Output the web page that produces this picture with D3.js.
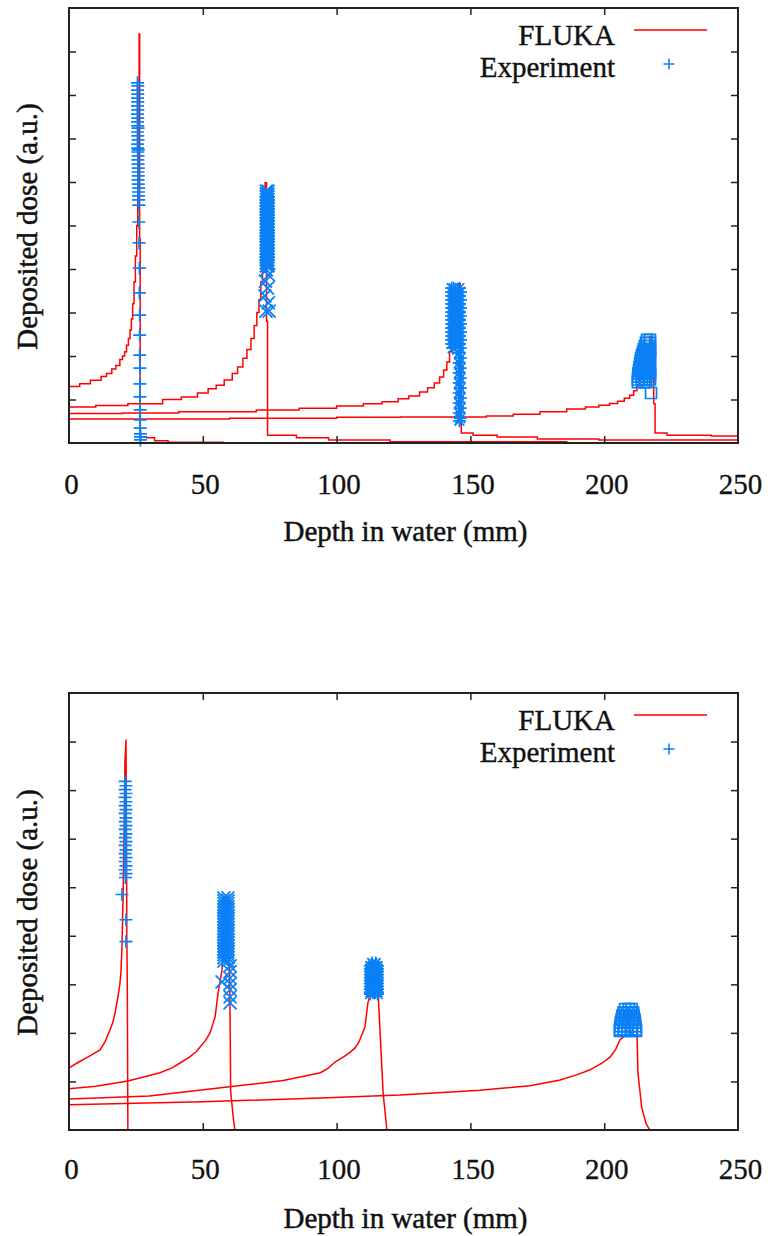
<!DOCTYPE html>
<html>
<head>
<meta charset="utf-8">
<script src="https://cdn.jsdelivr.net/npm/d3@7"></script>
<style>
  body { margin: 0; background: #fff; }
  text { font-family: "Liberation Serif", "Times New Roman", serif; fill: #111; }
</style>
</head>
<body>
<div id="chart"></div>
<script>
// ---- FLUKA curves, top panel: [depth mm, dose a.u.]
const flukaTop1 = [[0,1.30],[4,1.36],[8,1.44],[12,1.53],[14,1.6],[16,1.7],[17.5,1.78],[19,1.92],[20,2.0],[20.8,2.1],[21.5,2.25],[22.2,2.4],[22.8,2.6],[23.3,2.85],[23.8,3.2],[24.3,3.7],[24.8,4.3],[25.3,5.0],[25.7,6.0],[26.0,7.5],[26.2,9.4],[26.4,4.7],[26.6,0.14],[29,0.12],[32,0.05],[37,0.02],[58,0.02]];
const flukaTop2 = [[0,0.83],[10,0.86],[22,0.9],[35,1.0],[42,1.06],[48,1.15],[52,1.25],[55,1.33],[58,1.45],[61,1.6],[63,1.75],[65,1.95],[66.5,2.15],[68,2.4],[69.2,2.7],[70.2,3.0],[71,3.3],[71.7,3.7],[72.3,4.3],[72.8,5.0],[73.3,5.98],[73.8,2.8],[74.2,0.18],[85,0.12],[97,0.07],[120,0.03],[186,0.02]];
const flukaTop3 = [[0,0.68],[20,0.69],[41,0.72],[70,0.76],[86,0.8],[100,0.85],[110,0.9],[117,0.95],[123,1.02],[127,1.08],[131,1.17],[134,1.27],[136.5,1.38],[138.5,1.52],[140,1.68],[141.2,1.86],[142.2,2.1],[143,2.45],[143.8,2.9],[144.6,3.4],[145.4,3.66],[146.2,2.0],[146.6,0.23],[151,0.18],[160,0.14],[175,0.09],[198,0.07],[250,0.05]];
const flukaTop4 = [[0,0.55],[60,0.57],[100,0.59],[124,0.6],[156,0.62],[166,0.66],[176,0.72],[186,0.78],[193,0.83],[198,0.87],[202,0.91],[205,0.96],[207.5,1.03],[209.5,1.1],[211,1.2],[212.2,1.33],[213.2,1.5],[214.2,1.72],[215.2,1.98],[216.2,2.25],[217,2.45],[218,1.5],[218.5,0.9],[219,0.23],[223.5,0.18],[240,0.16],[250,0.14]];

// ---- Experiment points, top panel (rows: [dose, [depths...]])
const expTop1Rows = [[8.28,[25.6]],[8.21,[25.7]],[8.11,[25.6]],[8.02,[25.7]],[7.93,[25.6]],[7.84,[25.7]],[7.75,[25.6]],[7.66,[25.7]],[7.56,[25.6]],[7.47,[25.7]],[7.38,[25.6]],[7.29,[25.7]],[7.24,[25.8]],[7.15,[25.6]],[7.06,[25.7]],[6.97,[25.8]],[6.87,[25.6]],[6.78,[25.7]],[6.74,[25.9]],[6.69,[25.7]],[6.6,[25.8]],[6.51,[25.7]],[6.41,[25.8]],[6.32,[25.9]],[6.23,[25.8]],[6.14,[25.9]],[6.05,[25.8]],[5.95,[25.9]],[5.86,[26.0]],[5.77,[25.9]],[5.68,[26.0]],[5.59,[26.0]],[5.47,[26.1]],[5.08,[26.1]],[4.6,[26.2]],[4.02,[26.3]],[3.45,[26.3]],[2.94,[26.4]],[2.48,[26.4]],[2.02,[26.4]],[1.72,[26.5]],[1.36,[26.5]],[1.06,[26.5]],[0.76,[26.6]],[0.53,[26.6]],[0.34,[26.6]],[0.21,[26.7]],[0.14,[26.7]],[0.07,[26.7]]];
const expTop2Rows = [[5.79,[73.7,74.4]],[5.72,[73.7,74.4]],[5.66,[73.7,74.4]],[5.59,[73.7,74.4]],[5.52,[73.7,74.4]],[5.45,[73.7,74.4]],[5.38,[73.7,74.4]],[5.31,[73.7,74.4]],[5.24,[73.7,74.4]],[5.17,[73.7,74.4]],[5.1,[73.7,74.4]],[5.03,[73.7,74.4]],[4.97,[73.7,74.4]],[4.9,[73.7,74.4]],[4.83,[73.7,74.4]],[4.76,[73.7,74.4]],[4.69,[73.7,74.4]],[4.62,[73.7,74.4]],[4.55,[73.7,74.4]],[4.48,[73.7,74.4]],[4.41,[73.7,74.4]],[4.34,[73.7,74.4]],[4.28,[73.7,74.4]],[4.21,[73.7,74.4]],[4.14,[73.7,74.4]],[4.07,[73.7,74.4]],[3.98,[73.8]],[3.86,[74.6]],[3.72,[73.4]],[3.56,[74.2]],[3.38,[73.2]],[3.22,[74.5]],[3.03,[73.6,74.8]]];
const expTop3Rows = [[3.56,[143.0,143.7,145.9]],[3.47,[143.0,143.7,146.3]],[3.38,[143.0,143.7,145.9]],[3.29,[143.0,143.7,146.3]],[3.2,[143.0,143.7,145.9]],[3.1,[143.0,143.7,146.3]],[3.01,[143.0,143.7,145.9]],[2.92,[143.0,143.7,146.3]],[2.83,[143.0,143.7,145.9]],[2.74,[143.0,143.7,146.3]],[2.64,[143.0,143.7,145.9]],[2.55,[143.0,143.7,146.3]],[2.46,[143.0,143.7,145.9]],[2.37,[143.0,143.7,146.3]],[2.28,[143.0,143.7,145.9]],[2.18,[143.4,146.2]],[2.07,[145.8]],[1.95,[146.2]],[1.84,[145.8]],[1.72,[146.2]],[1.61,[145.8]],[1.49,[146.2]],[1.38,[145.8]],[1.26,[146.2]],[1.15,[145.8]],[1.03,[146.2]],[0.92,[145.8]],[0.8,[146.2]],[0.69,[145.8]],[0.57,[146.2]],[0.51,[145.9]]];
const expTop4Rows = [[2.37,[216.0,217.1]],[2.30,[215.6,217.1]],[2.23,[215.2,216.7]],[2.16,[214.8,216.4,217.1]],[2.09,[214.5,216.0,217.1]],[2.02,[214.1,215.6,217.1]],[1.95,[213.8,215.4,217.1]],[1.88,[213.6,215.2,216.8]],[1.81,[213.4,214.9,216.6]],[1.74,[213.2,214.7,216.3,217.1]],[1.67,[213.0,214.5,216.0,217.1]],[1.60,[212.8,214.3,215.8,217.1]],[1.53,[212.7,214.1,215.6,217.1]],[1.46,[212.6,214.0,215.4,217.1]],[1.40,[212.6,214.9,215.6]],[1.15,[217.5]]];

// ---- FLUKA curves, bottom panel
const flukaBot1 = [[0,1.28],[3,1.38],[7,1.5],[11.6,1.65],[13.5,1.82],[15.3,2.06],[16.4,2.22],[17.2,2.41],[18.3,2.74],[19.0,3.0],[19.4,3.24],[19.8,3.77],[20.2,4.8],[20.6,6.2],[20.9,7.57],[21.3,8.04],[21.5,6.0],[21.6,4.0],[21.8,2.9],[22.0,0]];
const flukaBot2 = [[0,0.85],[10,0.9],[22,1.01],[34,1.18],[38.5,1.28],[41.5,1.38],[45,1.5],[47.5,1.61],[49,1.71],[51,1.84],[52.7,2.0],[54.6,2.33],[55.7,2.82],[57.2,3.3],[58,4.0],[58.8,4.85],[59.6,4.6],[60.0,3.3],[60.2,2.3],[60.4,0.8],[61.5,0.2],[62,0]];
const flukaBot3 = [[0,0.64],[30,0.7],[60,0.89],[80,1.02],[94,1.18],[97,1.28],[99.4,1.4],[103,1.52],[105,1.6],[106.9,1.69],[108.2,1.8],[109,1.9],[110.6,2.12],[111.7,2.62],[112.5,2.78],[114,2.85],[115.5,2.86],[116.2,2.06],[117.4,0.75],[118.8,0]];
const flukaBot4 = [[0,0.52],[50,0.58],[94,0.66],[123.7,0.72],[153.6,0.82],[172.3,0.91],[183.5,1.03],[190,1.14],[194.7,1.24],[199,1.37],[202.2,1.5],[204.3,1.66],[205.9,1.86],[208,1.95],[210,1.98],[212.3,1.92],[212.6,1.18],[214,0.47],[215.6,0.14],[217,0]];

// ---- Experiment points, bottom panel
const expBot1Rows = [[7.18,[21.0]],[7.09,[21.3]],[7.01,[21.0]],[6.93,[21.3]],[6.85,[21.0]],[6.76,[21.3]],[6.68,[21.0]],[6.6,[21.3]],[6.52,[21.0]],[6.43,[21.3]],[6.35,[21.0]],[6.27,[21.3]],[6.19,[21.0]],[6.1,[21.3]],[6.02,[21.0]],[5.94,[21.3]],[5.86,[21.0]],[5.77,[21.3]],[5.69,[21.0]],[5.61,[21.3]],[5.53,[21.0]],[5.44,[21.3]],[5.36,[21.0]],[5.28,[21.3]],[5.2,[21.1]],[4.85,[19.8]],[4.33,[21.3]],[3.88,[21.3]]];
const expBot2Rows = [[4.78,[57.9,59.4]],[4.72,[57.9,59.4]],[4.66,[57.9,59.4]],[4.6,[57.9,59.4]],[4.54,[57.9,59.4]],[4.47,[57.9,59.4]],[4.41,[57.9,59.4]],[4.35,[57.9,59.4]],[4.29,[57.9,59.4]],[4.23,[57.9,59.4]],[4.16,[57.9,59.4]],[4.1,[57.9,59.4]],[4.04,[57.9,59.4]],[3.98,[57.9,59.4]],[3.92,[57.9,59.4]],[3.86,[57.9,59.4]],[3.79,[57.9,59.4]],[3.73,[57.9,59.4]],[3.67,[57.9,59.4]],[3.61,[57.9,59.4]],[3.55,[57.9,59.4]],[3.48,[57.9,59.4]],[3.38,[60.2]],[3.26,[60.2]],[3.13,[60.2]],[3.05,[57.2]],[3.01,[60.2]],[2.89,[60.2]],[2.74,[60.2]],[2.62,[60.2]]];
const expBot3Rows = [[3.44,[113.3,114.6]],[3.38,[112.6,113.5,114.4,115.3]],[3.32,[112.6,113.5,114.4,115.3]],[3.26,[112.6,113.5,114.4,115.3]],[3.2,[112.6,113.5,114.4,115.3]],[3.14,[112.6,113.5,114.4,115.3]],[3.08,[112.6,113.5,114.4,115.3]],[3.02,[112.6,113.5,114.4,115.3]],[2.96,[112.6,113.5,114.4,115.3]],[2.9,[112.6,113.5,114.4,115.3]],[2.84,[112.6,113.5,114.4,115.3]],[2.8,[112.6,115.3]]];
const expBot4Rows = [[2.49,[207.8,209.2,210.2]],[2.42,[207.2,208.6,210.0,210.8]],[2.35,[206.8,208.2,209.6,211.0]],[2.28,[206.5,207.9,209.3,210.7,211.3]],[2.21,[206.2,207.6,209.0,210.4,211.5]],[2.14,[206.0,207.4,208.8,210.2,211.7]],[2.07,[205.9,207.3,208.7,210.1,211.8]],[2.04,[205.9,207.4,210.4,211.9]]];

const xTickLabels = [0, 50, 100, 150, 200, 250];
const xInnerTicks = [50, 100, 150, 200];
const legendLabels = ["FLUKA", "Experiment"];

const RED = "#ff0000", BLUE = "#0a80f5";

// rows -> [depth, dose] points
const toPoints = rows => rows.flatMap(([v, xs]) => xs.map(d => [d, v]));

const svg = d3.select("#chart").append("svg")
  .attr("width", 771).attr("height", 1236)
  .style("background", "#fff");

// marker shapes, gnuplot style: +, x, *, box
function markerPath(type, s) {
  if (type === "plus") return `M${-s},0H${s}M0,${-s}V${s}`;
  if (type === "cross") return `M${-s},${-s}L${s},${s}M${-s},${s}L${s},${-s}`;
  if (type === "star") return `M${-s},0H${s}M0,${-s}V${s}M${-s*0.75},${-s*0.75}L${s*0.75},${s*0.75}M${-s*0.75},${s*0.75}L${s*0.75},${-s*0.75}`;
  return `M${-s},${-s}H${s}V${s}H${-s}Z`;
}

function drawPanel(cfg) {
  const g = svg.append("g").attr("transform", `translate(${cfg.left},${cfg.top})`);
  const w = cfg.width, h = cfg.height;

  const x = d3.scaleLinear().domain([0, 250]).range([0, w]);
  const y = d3.scaleLinear().domain([0, cfg.yMax]).range([h, 0]);

  const line = d3.line()
    .x(d => x(d[0]))
    .y(d => y(d[1]))
    .curve(cfg.curve);

  // FLUKA
  cfg.fluka.forEach(s => {
    g.append("path")
      .attr("d", line(s))
      .attr("fill", "none")
      .attr("stroke", RED)
      .attr("stroke-width", 1.5);
  });

  // Experiment
  cfg.exp.forEach((rows, i) => {
    const type = ["plus", "cross", "star", "box"][i];
    const size = type === "box" ? 5.5 : 6.5;
    g.append("g").selectAll("path")
      .data(toPoints(rows))
      .enter()
      .append("path")
      .attr("transform", d => `translate(${x(d[0])},${y(d[1])})`)
      .attr("d", markerPath(type, size))
      .attr("fill", "none")
      .attr("stroke", BLUE)
      .attr("stroke-width", 1.7);
  });

  // inner ticks on all four sides
  const tickStyle = sel => {
    sel.select(".domain").remove();
    sel.selectAll("line").attr("stroke", "#222").attr("stroke-width", 1.5);
  };
  g.append("g").attr("transform", `translate(0,${h})`)
    .call(d3.axisBottom(x).tickValues(xInnerTicks).tickSize(-7).tickFormat(""))
    .call(tickStyle);
  g.append("g")
    .call(d3.axisTop(x).tickValues(xInnerTicks).tickSize(-7).tickFormat(""))
    .call(tickStyle);
  g.append("g")
    .call(d3.axisLeft(y).tickValues(d3.range(1, cfg.yMax)).tickSize(-7).tickFormat(""))
    .call(tickStyle);
  g.append("g").attr("transform", `translate(${w},0)`)
    .call(d3.axisRight(y).tickValues(d3.range(1, cfg.yMax)).tickSize(-7).tickFormat(""))
    .call(tickStyle);

  // tick labels
  const lab = g.append("g").attr("transform", `translate(2,${h})`)
    .call(d3.axisBottom(x).tickValues(xTickLabels).tickSize(0).tickPadding(cfg.labelPad).tickFormat(d3.format("d")));
  lab.select(".domain").remove();
  lab.selectAll("text")
    .style("font-family", "'Liberation Serif', serif")
    .style("font-size", "29px")
    .style("stroke", "#111").style("stroke-width", 0.3)
    .attr("fill", "#111");

  // frame
  g.append("rect")
    .attr("width", w).attr("height", h)
    .attr("fill", "none").attr("stroke", "#222").attr("stroke-width", 2);

  // axis titles
  g.append("text")
    .attr("x", w / 2 + 2).attr("y", h + 98)
    .attr("text-anchor", "middle")
    .style("font-size", "29px")
    .style("stroke", "#111").style("stroke-width", 0.5)
    .text("Depth in water (mm)");
  g.append("text")
    .attr("transform", `translate(${37 - cfg.left},${h / 2 + 1}) rotate(-90)`)
    .attr("text-anchor", "middle")
    .style("font-size", "29px")
    .style("stroke", "#111").style("stroke-width", 0.5)
    .text("Deposited dose (a.u.)");

  // legend
  const lg = g.append("g");
  lg.append("text").attr("x", 546).attr("y", 37)
    .attr("text-anchor", "end").style("font-size", "29px")
    .style("stroke", "#111").style("stroke-width", 0.4)
    .text(legendLabels[0]);
  lg.append("line").attr("x1", 565).attr("x2", 638).attr("y1", 22).attr("y2", 22)
    .attr("stroke", RED).attr("stroke-width", 1.5);
  lg.append("text").attr("x", 546).attr("y", 69)
    .attr("text-anchor", "end").style("font-size", "29px")
    .style("stroke", "#111").style("stroke-width", 0.4)
    .text(legendLabels[1]);
  lg.append("path").attr("transform", "translate(600,56)")
    .attr("d", markerPath("plus", 5.5))
    .attr("stroke", BLUE).attr("stroke-width", 1.5);
}

drawPanel({
  left: 69, top: 8, width: 669, height: 435, yMax: 10, labelPad: 30,
  curve: d3.curveStepAfter,
  fluka: [flukaTop1, flukaTop2, flukaTop3, flukaTop4],
  exp: [expTop1Rows, expTop2Rows, expTop3Rows, expTop4Rows]
});

drawPanel({
  left: 69, top: 693, width: 669, height: 437, yMax: 9, labelPad: 28,
  curve: d3.curveLinear,
  fluka: [flukaBot1, flukaBot2, flukaBot3, flukaBot4],
  exp: [expBot1Rows, expBot2Rows, expBot3Rows, expBot4Rows]
});
</script>
</body>
</html>
